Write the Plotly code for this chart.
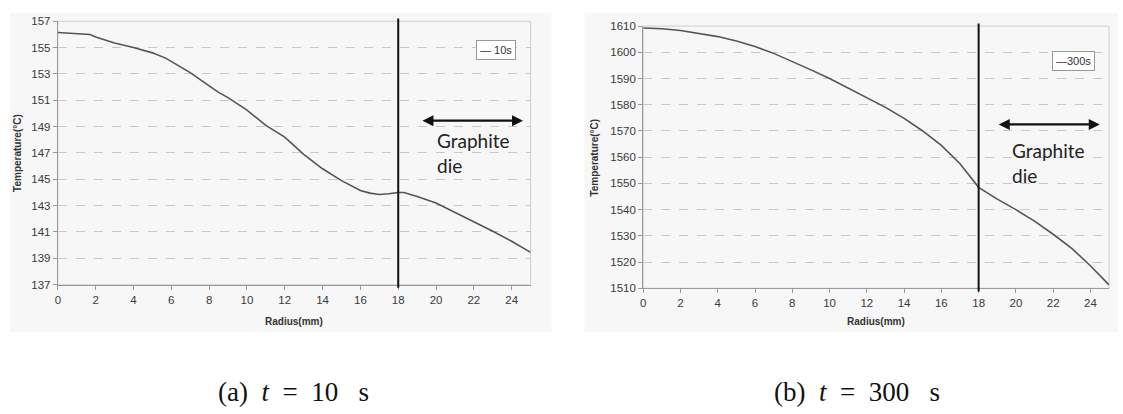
import plotly.graph_objects as go

# ---- data ----
radius_10s = [0, 1, 1.7, 2, 3, 4, 5, 5.7, 6.4, 7, 8, 8.5, 9, 10, 11, 12, 13, 14, 15, 16, 16.5, 17, 17.5, 18, 18.3, 19, 20, 21, 22, 23, 24, 25]
temp_10s = [156.15, 156.07, 156.0, 155.8, 155.35, 155.0, 154.6, 154.2, 153.6, 153.1, 152.1, 151.6, 151.2, 150.25, 149.1, 148.2, 146.9, 145.8, 144.9, 144.15, 143.95, 143.85, 143.9, 144.0, 144.0, 143.7, 143.2, 142.5, 141.75, 141.05, 140.3, 139.45]

radius_300s = [0, 1, 2, 3, 4, 5, 6, 7, 8, 9, 10, 11, 12, 13, 14, 15, 16, 17, 18, 19, 20, 21, 22, 23, 24, 25]
temp_300s = [1609.3, 1609.0, 1608.3, 1607.2, 1606.0, 1604.3, 1602.2, 1599.6, 1596.6, 1593.3, 1590.0, 1586.3, 1582.6, 1579.0, 1574.8, 1570.0, 1564.5, 1557.5, 1548.5, 1544.0, 1540.0, 1535.6, 1530.6, 1525.2, 1518.6, 1511.3]

x_ticks = [0, 2, 4, 6, 8, 10, 12, 14, 16, 18, 20, 22, 24]
die_boundary = 18
arrow_span = [19.2, 24.6]
arrow_y_a = 149.45
arrow_y_b = 1572.5
legend_labels = ["10s", "300s"]
captions = ["(a)  <i>t</i>  =  10   s", "(b)  <i>t</i>  =  300   s"]

W, H = 1123, 414

def px_x(p):
    return p / W

def px_y(p):
    return 1 - p / H

fig = go.Figure()
fig.add_trace(go.Scatter(x=radius_10s, y=temp_10s, mode="lines", line=dict(color="#555555", width=1.6),
                         xaxis="x", yaxis="y", showlegend=False))
fig.add_trace(go.Scatter(x=radius_300s, y=temp_300s, mode="lines", line=dict(color="#555555", width=1.6),
                         xaxis="x2", yaxis="y2", showlegend=False))

tickfont = dict(family="Liberation Sans, Arial", size=11.5, color="#3a3a3a")
axis_common = dict(showline=True, linecolor="#9a9a9a", linewidth=1.2, ticks="outside", ticklen=4,
                   tickcolor="#9a9a9a", tickfont=tickfont, zeroline=False, mirror=False)

fig.update_layout(
    width=W, height=H,
    margin=dict(l=0, r=0, t=0, b=0, pad=0),
    paper_bgcolor="white",
    plot_bgcolor="#f8f8f8",
    showlegend=False,
    xaxis=dict(domain=[px_x(55), px_x(529)], range=[0, 25], tickvals=x_ticks, showgrid=False,
               anchor="y", **axis_common),
    yaxis=dict(domain=[px_y(287), px_y(15.7)], range=[137, 157], dtick=2, tick0=137,
               showgrid=True, gridcolor="#c8c8c8", griddash="dash", gridwidth=1, anchor="x", **axis_common),
    xaxis2=dict(domain=[px_x(642), px_x(1109)], range=[0, 25], tickvals=x_ticks, showgrid=False,
                anchor="y2", **axis_common),
    yaxis2=dict(domain=[px_y(290.7), px_y(20.7)], range=[1510, 1610], dtick=10, tick0=1510,
                showgrid=True, gridcolor="#c8c8c8", griddash="dash", gridwidth=1, anchor="x2", **axis_common),
)

shapes = []
# outer chart panels
shapes.append(dict(type="rect", xref="paper", yref="paper", x0=px_x(7), x1=px_x(550), y0=px_y(336), y1=px_y(7),
                   fillcolor="#f7f7f7", line=dict(width=0), layer="below"))
shapes.append(dict(type="rect", xref="paper", yref="paper", x0=px_x(583), x1=px_x(1118), y0=px_y(336), y1=px_y(7),
                   fillcolor="#f7f7f7", line=dict(width=0), layer="below"))
# plot area borders + die boundary line
for xr, yr in (("x", "y"), ("x2", "y2")):
    shapes.append(dict(type="rect", xref=xr + " domain", yref=yr + " domain", x0=0, x1=1, y0=0, y1=1,
                       line=dict(color="#cfcfcf", width=1), fillcolor="rgba(0,0,0,0)", layer="below"))
    shapes.append(dict(type="line", xref=xr, yref=yr + " domain", x0=die_boundary, x1=die_boundary,
                       y0=-0.012, y1=1.01, line=dict(color="#111111", width=2)))
fig.update_layout(shapes=shapes)

ann = []
lab_font = dict(family="Liberation Sans, Arial", size=10, color="#333333")
# axis titles
for xr in ("x", "x2"):
    ann.append(dict(text="<b>Radius(mm)</b>", xref=xr + " domain", yref="paper", x=0.5, y=px_y(325),
                    xanchor="center", yanchor="middle", showarrow=False, font=lab_font))
ann.append(dict(text="<b>Temperature(°C)</b>", xref="paper", yref="y domain", x=px_x(15), y=0.5, showarrow=False,
                xanchor="center", yanchor="middle", textangle=-90, font=lab_font))
ann.append(dict(text="<b>Temperature(°C)</b>", xref="paper", yref="y2 domain", x=px_x(593), y=0.5, showarrow=False,
                xanchor="center", yanchor="middle", textangle=-90, font=lab_font))
# legends
leg_font = dict(family="Liberation Sans, Arial", size=11, color="#333333")
ann.append(dict(text="— " + legend_labels[0], xref="paper", yref="paper", x=px_x(494), y=px_y(45),
                xanchor="center", yanchor="middle", showarrow=False, font=leg_font,
                bordercolor="#999999", borderwidth=1, borderpad=3, bgcolor="#ffffff"))
ann.append(dict(text="—" + legend_labels[1], xref="paper", yref="paper", x=px_x(1073), y=px_y(57),
                xanchor="center", yanchor="middle", showarrow=False, font=leg_font,
                bordercolor="#999999", borderwidth=1, borderpad=3, bgcolor="#ffffff"))
# double arrows
ann.append(dict(xref="x", yref="y", axref="x", ayref="y", x=arrow_span[1], y=arrow_y_a, ax=arrow_span[0], ay=arrow_y_a,
                text="", showarrow=True, arrowhead=2, startarrowhead=2, arrowside="end+start",
                arrowwidth=2.2, arrowsize=1, startarrowsize=1, arrowcolor="#111111"))
ann.append(dict(xref="x2", yref="y2", axref="x2", ayref="y2", x=arrow_span[1] - 0.1, y=arrow_y_b, ax=arrow_span[0] - 0.2, ay=arrow_y_b,
                text="", showarrow=True, arrowhead=2, startarrowhead=2, arrowside="end+start",
                arrowwidth=2.2, arrowsize=1, startarrowsize=1, arrowcolor="#111111"))
# Graphite die labels
gd_font = dict(family="Lato, Open Sans", size=19, color="#222222")
ann.append(dict(text="Graphite<br>die", xref="paper", yref="paper", x=px_x(433), y=px_y(125), xanchor="left", yanchor="top",
                align="left", showarrow=False, font=gd_font))
ann.append(dict(text="Graphite<br>die", xref="paper", yref="paper", x=px_x(1010), y=px_y(135), xanchor="left", yanchor="top",
                align="left", showarrow=False, font=gd_font))
# captions
cap_font = dict(family="Liberation Serif, DejaVu Serif", size=27, color="#111111")
ann.append(dict(text=captions[0], xref="paper", yref="paper", x=px_x(291), y=px_y(398),
                xanchor="center", yanchor="middle", showarrow=False, font=cap_font))
ann.append(dict(text=captions[1], xref="paper", yref="paper", x=px_x(856), y=px_y(398),
                xanchor="center", yanchor="middle", showarrow=False, font=cap_font))
fig.update_layout(annotations=ann)

fig.write_html("out.html", config={"displayModeBar": False},
               post_script="document.body.style.margin='0';document.body.style.padding='0';document.body.style.overflow='hidden';")
